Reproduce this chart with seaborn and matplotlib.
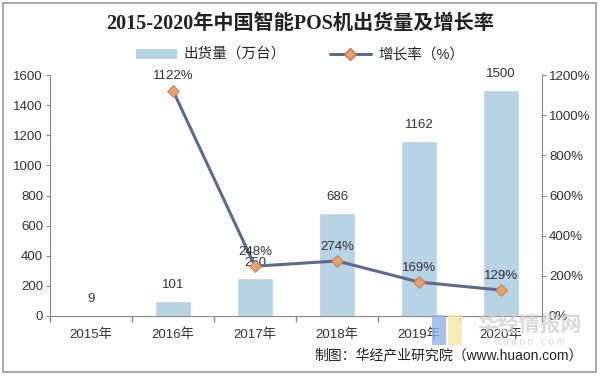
import numpy as np
import pandas as pd
import matplotlib
matplotlib.use("Agg")
import matplotlib.pyplot as plt
import seaborn as sns
from matplotlib.lines import Line2D
from matplotlib.patches import Patch, Rectangle

# data
years = ["2015年", "2016年", "2017年", "2018年", "2019年", "2020年"]
shipments = [9, 101, 250, 686, 1162, 1500]
growth_years = ["2016年", "2017年", "2018年", "2019年", "2020年"]
growth = [1122, 248, 274, 169, 129]

BAR_COLOR = "#b7d3e4"
LINE_COLOR = "#5d6a8c"
MARKER_COLOR = "#e9a06f"

sns.set_theme(style="white")
plt.rcParams["font.family"] = ["Liberation Sans", "Noto Sans CJK SC", "DejaVu Sans"]

fig = plt.figure(figsize=(6, 3.76), dpi=100)
ax = fig.add_axes([50 / 600, 1 - 316 / 376, 492 / 600, 241 / 376])

df = pd.DataFrame({"year": years, "val": shipments})
sns.barplot(data=df, x="year", y="val", color=BAR_COLOR, width=0.43,
            saturation=1, ax=ax)
ax.set_ylim(0, 1600)
ax.set_yticks(range(0, 1601, 200))
ax.set_xlabel("")
ax.set_ylabel("")
for i, v in enumerate(shipments):
    ax.annotate(str(v), (i, v), xytext=(0, 7), textcoords="offset points",
                ha="center", va="bottom", fontsize=9.5, color="#333333")

ax2 = ax.twinx()
pos = [years.index(y) for y in growth_years]
gdf = pd.DataFrame({"pos": pos, "g": growth})
sns.lineplot(data=gdf, x="pos", y="g", ax=ax2, color=LINE_COLOR, lw=2.2,
             marker="D", markersize=6.5, markerfacecolor=MARKER_COLOR,
             markeredgecolor="#c07a4e", markeredgewidth=0.6)
ax2.set_ylim(0, 1200)
ax2.set_yticks(range(0, 1201, 200))
ax2.set_yticklabels([f"{t}%" for t in range(0, 1201, 200)])
ax2.set_ylabel("")
ax2.set_xlim(-0.5, 5.5)
for p, g in zip(pos, growth):
    ax2.annotate(f"{g}%", (p, g), xytext=(0, 6), textcoords="offset points",
                 ha="center", va="bottom", fontsize=9.5, color="#333333")

for a in (ax, ax2):
    for s in a.spines.values():
        s.set_visible(False)
    a.tick_params(length=3, width=0.8, color="#888888", labelsize=9.5,
                  labelcolor="#333333", pad=2)
ax.spines["left"].set_visible(True)
ax.spines["bottom"].set_visible(True)
ax2.spines["right"].set_visible(True)
for s in (ax.spines["left"], ax.spines["bottom"], ax2.spines["right"]):
    s.set_color("#888888")
    s.set_linewidth(0.8)
ax.tick_params(axis="y", left=True, direction="out")
ax2.tick_params(axis="y", right=True, direction="out")
ax.set_xticks(np.arange(-0.5, 6, 1), minor=True)
ax.tick_params(axis="x", which="major", bottom=False, pad=6)
ax.tick_params(axis="x", which="minor", bottom=True, length=4,
               color="#888888", direction="out")

# title and legend
fig.text(0.5, 1 - 24 / 376, "2015-2020年中国智能POS机出货量及增长率",
         ha="center", va="center", fontsize=14.5, fontweight="bold",
         color="#222222", family=["Liberation Serif", "Noto Sans CJK SC"])
handles = [Patch(facecolor=BAR_COLOR, edgecolor="none"),
           Line2D([0], [0], color=LINE_COLOR, lw=2.2, marker="D",
                  markersize=6, markerfacecolor=MARKER_COLOR,
                  markeredgecolor="#c07a4e")]
fig.legend(handles, ["出货量（万台）", "增长率（%）"], loc="center",
           bbox_to_anchor=(0.5, 1 - 55 / 376), ncol=2, frameon=False,
           fontsize=10.5, handlelength=2.8, columnspacing=3,
           handletextpad=0.5)

# watermark and source
fig.text(530 / 600, 1 - 325 / 376, "华经情报网", ha="center", va="center",
         fontsize=15, color="#d2d2d2", alpha=0.8, fontweight="bold")
fig.text(530 / 600, 1 - 342 / 376, "h u a o n . c o m", ha="center",
         va="center", fontsize=7, color="#d8d8d8")
fig.patches.append(Rectangle((432 / 600, 1 - 345 / 376), 14 / 600, 30 / 376,
                             transform=fig.transFigure, facecolor="#8fb4ec",
                             edgecolor="none", alpha=0.8))
fig.patches.append(Rectangle((448 / 600, 1 - 345 / 376), 14 / 600, 30 / 376,
                             transform=fig.transFigure, facecolor="#f7e7a6",
                             edgecolor="none", alpha=0.8))
fig.text(583 / 600, 1 - 355 / 376, "制图：华经产业研究院（www.huaon.com）",
         ha="right", va="center", fontsize=10, color="#222222")

# outer frame
fig.patches.append(Rectangle((3 / 600, 4 / 376), 593 / 600, 369 / 376,
                             transform=fig.transFigure, fill=False,
                             edgecolor="#999999", lw=1.2))

fig.savefig("out.png", dpi=100)
